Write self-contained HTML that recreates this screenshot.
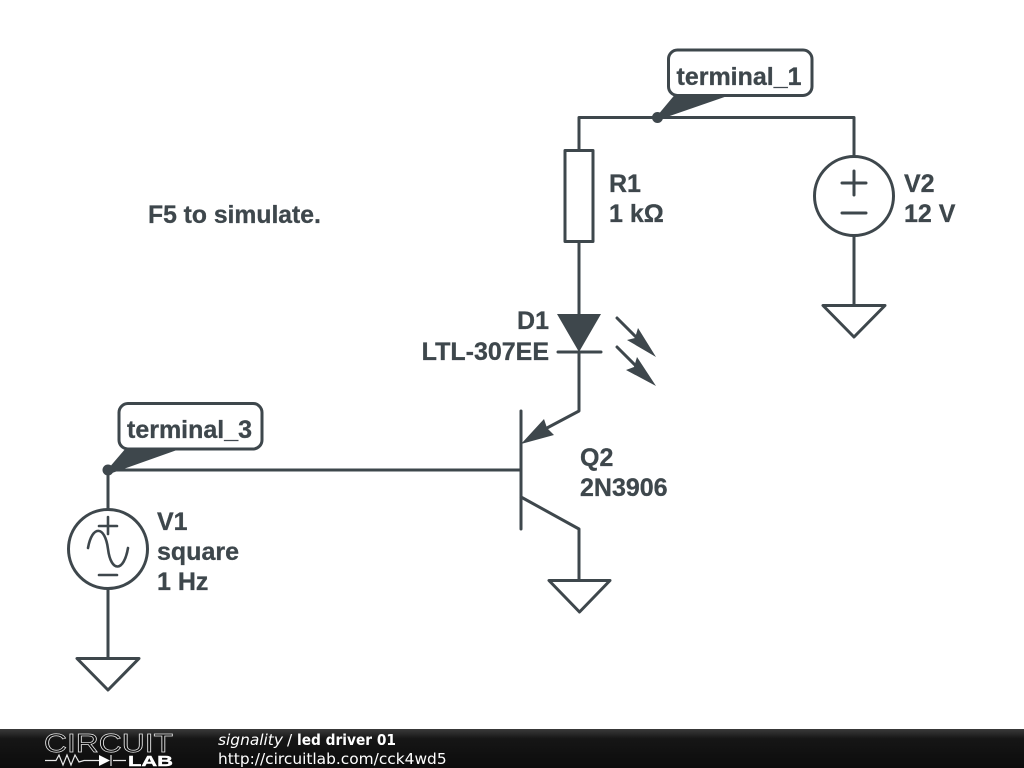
<!DOCTYPE html>
<html><head><meta charset="utf-8"><style>html,body{margin:0;padding:0;background:#fff}svg{display:block}</style></head><body>
<svg width="1024" height="768" viewBox="0 0 1024 768" xmlns="http://www.w3.org/2000/svg">
<defs><linearGradient id="b" x1="0" y1="0" x2="0" y2="1"><stop offset="0" stop-color="#3a3a3a"/><stop offset=".25" stop-color="#161616"/><stop offset="1" stop-color="#0c0c0c"/></linearGradient></defs>
<g fill="none" stroke="#3e474c" stroke-width="3" stroke-linecap="round" stroke-linejoin="round">
<path d="M579 150V117.500H854V156"/>
<rect x="565" y="150.500" width="28" height="91"/>
<path d="M579 242V314M579 352V411L530 437"/>
<path d="M558 352H601"/>
<path d="M521 411V529M108 470H521M521 497L579 529V580"/>
<path d="M549 580.500H610L579.500 612Z"/>
<circle cx="854" cy="196" r="39.500"/>
<path d="M842 183H866M854 171V195M842 213H866M854 236V305"/>
<path d="M823 305.500H885L854 337Z"/>
<circle cx="108" cy="549" r="39.500"/>
<path d="M108 470V509M108 589V658"/>
<path d="M99 526H117M108 517V534M99 575H117M88 548C92 525 105 525 108 549C111 573 124 572 128 548" stroke-width="2.600"/>
<path d="M77 658.500H139L108 690Z"/>
<path d="M617 318L640 341M617 347L640 370"/>
</g>
<g fill="#3e474c" stroke="none">
<path d="M557 314H601L579 352Z"/>
<path d="M521 444L544 419L547 428L554 435Z"/>
<path d="M656 357L627 340L635 338L638 328Z"/>
<path d="M656 386L626 370L634 367L637 357Z"/>
<circle cx="657.500" cy="117.500" r="5.500"/>
<circle cx="108" cy="470" r="5.500"/>
</g>
<g fill="#fff" stroke="#3e474c" stroke-width="3"><rect x="668.500" y="50" width="143.500" height="45.500" rx="9"/><rect x="119" y="403.500" width="143" height="45.500" rx="9"/></g>
<g fill="#3e474c">
<path d="M657 116L675 94.500H726V96.500L661 119Z"/>
<path d="M108 469L126 448H177V450L112 473Z"/>
</g>
<g font-family="'Liberation Sans',sans-serif" font-weight="700" font-size="25" fill="#3e474c" stroke="#3e474c" stroke-width=".3">
<text x="676.500" y="85">terminal_1</text>
<text x="127" y="438">terminal_3</text>
<text x="148" y="223" font-size="24.700">F5 to simulate.</text>
<text x="609" y="192">R1</text><text x="609" y="222">1 kΩ</text>
<text x="904" y="192">V2</text><text x="904" y="222">12 V</text>
<text x="549" y="329" text-anchor="end">D1</text><text x="549" y="360" text-anchor="end">LTL-307EE</text>
<text x="580" y="466">Q2</text><text x="580" y="496">2N3906</text>
<text x="157" y="530">V1</text><text x="157" y="560">square</text><text x="157" y="590">1 Hz</text>
</g>
<rect x="0" y="729" width="1024" height="39" fill="url(#b)"/>
<g font-family="'DejaVu Sans',sans-serif" font-size="15.400" fill="#fff">
<text x="218" y="745" font-style="oblique">signality</text>
<text x="287" y="745">/</text>
<text x="297" y="745" font-weight="700" textLength="99" lengthAdjust="spacingAndGlyphs">led driver 01</text>
<text x="218" y="764">http://circuitlab.com/cck4wd5</text>
</g>
<text x="44" y="752" font-family="'Liberation Sans',sans-serif" font-size="26" fill="#0c0c0c" stroke="#e8e8e8" stroke-width=".7" textLength="129" lengthAdjust="spacingAndGlyphs">CIRCUIT</text>
<text x="128" y="766" font-family="'Liberation Sans',sans-serif" font-weight="700" font-size="15" fill="#fff" stroke="#fff" stroke-width=".4" textLength="45" lengthAdjust="spacingAndGlyphs">LAB</text>
<path d="M45 760.500H56L59 755L63 765L67 755L71 765L75 755L79 762L84 760.500H99M113 760.500H126M111 755V766" fill="none" stroke="#e8e8e8" stroke-width="1.200"/>
<path d="M99 755L110 760.500L99 766Z" fill="#fff"/>
</svg>
</body></html>
